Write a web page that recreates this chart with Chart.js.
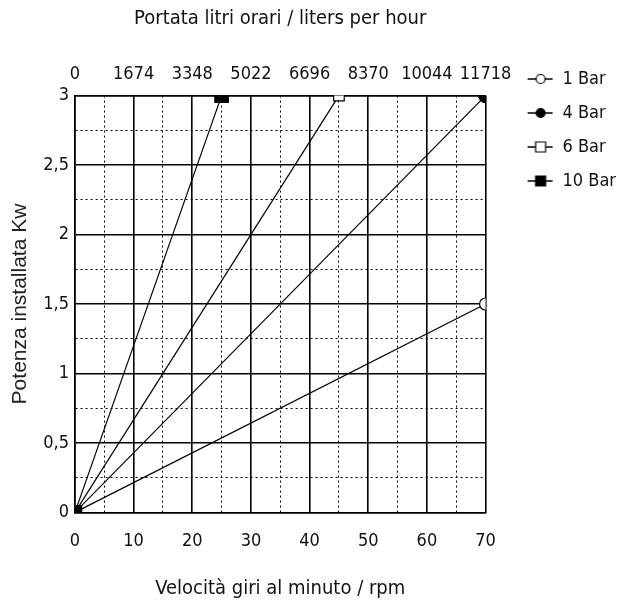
<!DOCTYPE html>
<html>
<head>
<meta charset="utf-8">
<script src="https://cdn.jsdelivr.net/npm/chart.js@4"></script>
<style>
  body { margin: 0; background: #fff; }
</style>
</head>
<body>
<canvas id="myChart" width="619" height="603"></canvas>
<script>
// rpm (x) and installed power in kW (y), one pair of arrays per pressure
const seriesNames = ['1 Bar', '4 Bar', '6 Bar', '10 Bar'];
const rpm1 = [0, 70],  kw1 = [0, 1.5];
const rpm4 = [0, 70],  kw4 = [0, 3];
const rpm6 = [0, 45],  kw6 = [0, 3];
const rpm10 = [0, 25], kw10 = [0, 3];

// tick labels
const rpmTicks = [0, 10, 20, 30, 40, 50, 60, 70];
const kwTicks = [0, 0.5, 1, 1.5, 2, 2.5, 3];
const litreTicks = [0, 1674, 3348, 5022, 6696, 8370, 10044, 11718];

// the picture uses a tall narrow face, condensed DejaVu is the closest we have
const narrow = "'DejaVu Sans Condensed', 'DejaVu Sans', sans-serif";
const condensed = 'normal condensed';
const wide = "'Liberation Sans', Arial, sans-serif";

const toPoints = (xs, ys) => xs.map((x, i) => ({x: x, y: ys[i]}));

// major ticks plus a dotted one half way between each pair
const withMinor = (major) => {
  let out = [];
  major.forEach((v, i) => {
    out.push({value: v});
    if (i < major.length - 1) out.push({value: (v + major[i + 1]) / 2, minor: true});
  });
  return out;
}

const isMinor = (ctx) => ctx.tick && ctx.tick.minor;

// legend sample: short line with the marker on it, pushed to the right of the box
const ICON_W = 52;
const makeIcon = (shape, filled) => {
  let c = document.createElement('canvas');
  c.width = ICON_W;
  c.height = 16;
  let g = c.getContext('2d');
  let x0 = ICON_W - 26, mid = ICON_W - 13;
  g.strokeStyle = '#000';
  g.lineWidth = 1.5;
  g.beginPath();
  g.moveTo(x0, 8);
  g.lineTo(ICON_W - 1, 8);
  g.stroke();
  g.fillStyle = filled ? '#000' : '#fff';
  g.lineWidth = 1.2;
  g.beginPath();
  if (shape === 'circle') g.arc(mid, 8, 4.5, 0, Math.PI * 2);
  else g.rect(mid - 5, 3, 10, 10);
  g.fill();
  g.stroke();
  return c;
}

const styles = [
  {shape: 'circle', filled: false, r: 6},
  {shape: 'circle', filled: true, r: 7},
  {shape: 'rect', filled: false, r: 7.5},
  {shape: 'rect', filled: true, r: 9.5},
];

const dataset = (i, xs, ys) => {
  let s = styles[i];
  return {
    label: seriesNames[i],
    data: toPoints(xs, ys),
    borderColor: '#000',
    borderWidth: 1.2,
    pointStyle: s.shape,
    pointBackgroundColor: s.filled ? '#000' : '#fff',
    pointBorderColor: '#000',
    pointBorderWidth: 1.2,
    // only the 10 Bar square shows at the origin
    pointRadius: ctx => (ctx.dataIndex === 0 && i !== 3) ? 0 : s.r,
    order: 3 - i,
  }
}

const tickFont = { family: narrow, weight: condensed, size: 18 };

const ctx = document.getElementById('myChart').getContext('2d');
const chart = new Chart(ctx, {
  type: 'line',
  data: {
    datasets: [
      dataset(0, rpm1, kw1),
      dataset(1, rpm4, kw4),
      dataset(2, rpm6, kw6),
      dataset(3, rpm10, kw10),
    ]
  },
  options: {
    responsive: false,
    animation: false,
    layout: { padding: { top: 0, right: -7, bottom: 0, left: 2 } },
    plugins: {
      tooltip: { enabled: false },
      legend: {
        position: 'right',
        align: 'start',
        title: { display: true, text: ' ', padding: { top: 0, bottom: 42 }, font: { size: 10 } },
        labels: {
          usePointStyle: true,
          pointStyleWidth: ICON_W,
          padding: 16,
          color: '#111',
          font: tickFont,
          generateLabels: (chart) => chart.data.datasets.map((d, i) => ({
            text: d.label,
            pointStyle: makeIcon(styles[i].shape, styles[i].filled),
            fillStyle: '#000',
            strokeStyle: '#000',
            lineWidth: 0,
            hidden: false,
            datasetIndex: i,
            fontColor: '#111',
          })),
        }
      }
    },
    scales: {
      x: {
        type: 'linear',
        position: 'bottom',
        min: rpmTicks[0],
        max: rpmTicks[rpmTicks.length - 1],
        afterBuildTicks: (scale) => { scale.ticks = withMinor(rpmTicks); },
        ticks: {
          autoSkip: false,
          maxRotation: 0,
          padding: 18,
          color: '#111',
          font: tickFont,
          callback: (v, i, ticks) => ticks[i].minor ? '' : String(v),
        },
        grid: {
          color: '#000',
          lineWidth: ctx => isMinor(ctx) ? 1 : 1.6,
          drawTicks: false,
        },
        border: {
          color: '#000',
          width: 1.6,
          dash: ctx => isMinor(ctx) ? [2, 3] : [],
        },
        title: {
          display: true,
          text: 'Velocità giri al minuto / rpm',
          color: '#111',
          font: { family: narrow, weight: condensed, size: 20 },
          padding: { top: 7, bottom: 2 },
        }
      },
      x2: {
        type: 'linear',
        position: 'top',
        min: litreTicks[0],
        max: litreTicks[litreTicks.length - 1],
        afterBuildTicks: (scale) => { scale.ticks = litreTicks.map(v => ({value: v})); },
        ticks: {
          autoSkip: false,
          maxRotation: 0,
          padding: 10,
          color: '#111',
          font: tickFont,
          callback: (v) => String(v),
        },
        grid: { drawOnChartArea: false, drawTicks: false },
        border: { color: '#000', width: 1.6 },
        title: {
          display: true,
          text: 'Portata litri orari / liters per hour',
          color: '#111',
          font: { family: narrow, weight: condensed, size: 20 },
          padding: { top: 7, bottom: 23 },
        }
      },
      y: {
        type: 'linear',
        min: kwTicks[0],
        max: kwTicks[kwTicks.length - 1],
        afterBuildTicks: (scale) => { scale.ticks = withMinor(kwTicks); },
        ticks: {
          autoSkip: false,
          padding: 6,
          color: '#111',
          font: tickFont,
          callback: (v, i, ticks) => ticks[i].minor ? '' : String(v).replace('.', ','),
        },
        grid: {
          color: '#000',
          lineWidth: ctx => isMinor(ctx) ? 1 : 1.6,
          drawTicks: false,
        },
        border: {
          color: '#000',
          width: 1.6,
          dash: ctx => isMinor(ctx) ? [2, 3] : [],
        },
        title: {
          display: true,
          text: 'Potenza installata Kw',
          color: '#222',
          font: { family: wide, size: 21 },
          padding: { top: 6, bottom: 4 },
        }
      }
    }
  }
});
</script>
</body>
</html>
